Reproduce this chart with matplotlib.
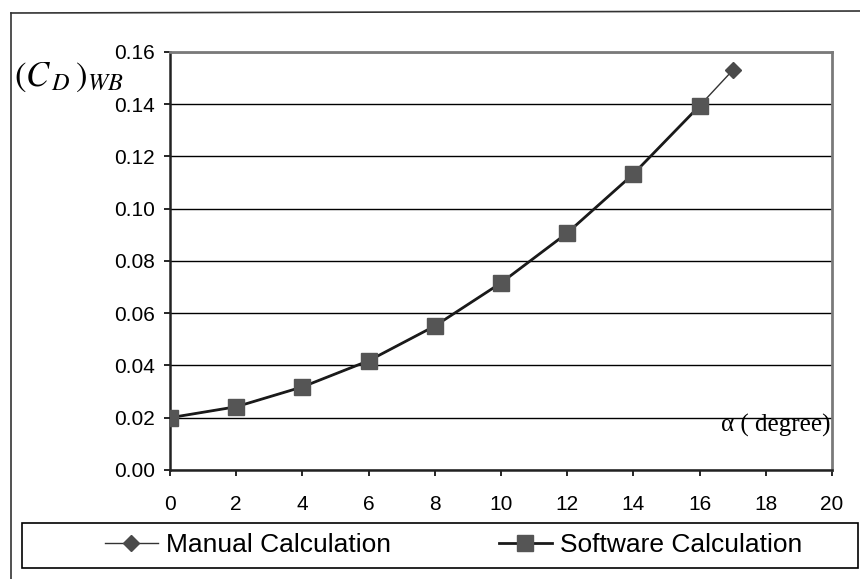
import matplotlib
matplotlib.use("Agg")
import matplotlib.pyplot as plt
from matplotlib.patches import Rectangle
from matplotlib.lines import Line2D

plt.rcParams['font.family'] = ['Liberation Sans', 'DejaVu Sans']
plt.rcParams['mathtext.fontset'] = 'stix'

# angle of attack (deg) and drag coefficient values
alpha_manual = [0, 2, 4, 6, 8, 10, 12, 14, 16, 17]
cd_manual = [0.0200, 0.0242, 0.0318, 0.0418, 0.0551, 0.0716, 0.0907, 0.1133, 0.1394, 0.1530]

alpha_software = [0, 2, 4, 6, 8, 10, 12, 14, 16]
cd_software = [0.0200, 0.0242, 0.0318, 0.0418, 0.0551, 0.0716, 0.0907, 0.1133, 0.1394]

x_ticks = [0, 2, 4, 6, 8, 10, 12, 14, 16, 18, 20]
y_ticks = [0.00, 0.02, 0.04, 0.06, 0.08, 0.10, 0.12, 0.14, 0.16]

fig = plt.figure(figsize=(8.6, 5.79), dpi=100)
ax = fig.add_axes([0.1977, 0.1883, 0.9674 - 0.1977, 0.9102 - 0.1883])

ax.plot(alpha_manual, cd_manual, color='#333333', lw=1.0, marker='D',
        markersize=8, markerfacecolor='#4a4a4a', markeredgecolor='#4a4a4a',
        zorder=3)
ax.plot(alpha_software, cd_software, color='#1a1a1a', lw=2.0, marker='s',
        markersize=11.5, markerfacecolor='#555555', markeredgecolor='#555555',
        zorder=4)

ax.set_xlim(0, 20)
ax.set_ylim(0, 0.16)
ax.set_xticks(x_ticks)
ax.set_yticks(y_ticks)
ax.set_yticklabels([f"{v:.2f}" for v in y_ticks])
ax.tick_params(axis='both', direction='out', length=4, width=1.2,
               labelsize=15, color='black')
ax.tick_params(axis='y', pad=7)
ax.tick_params(axis='x', pad=14)

ax.yaxis.grid(True, color='black', lw=1.0)
ax.set_axisbelow(True)

for s in ['left', 'bottom']:
    ax.spines[s].set_color('#222222')
    ax.spines[s].set_linewidth(1.8)
for s in ['top', 'right']:
    ax.spines[s].set_color('#7a7a7a')
    ax.spines[s].set_linewidth(2.0)

ax.text(19.95, 0.0172, 'α ( degree)', family='Liberation Serif',
        fontsize=18, ha='right', va='center')

fig.text(0.016, 0.866, r'$\left(C_{\,D}\,\right)_{WB}$', fontsize=25,
         ha='left', va='center')

# outer chart border (only top and left edges are inside the picture)
fig.add_artist(Line2D([11 / 860, 11 / 860], [0, (579 - 13) / 579],
                      transform=fig.transFigure, color='#333333', lw=1.2))
fig.add_artist(Line2D([11 / 860, 1], [(579 - 13) / 579, (579 - 11) / 579],
                      transform=fig.transFigure, color='#333333', lw=1.2))
# legend box
fig.patches.append(Rectangle((22 / 860, 11 / 579), (858 - 22) / 860, 45 / 579,
                             transform=fig.transFigure, fill=False,
                             edgecolor='black', lw=1.2))

handles = [
    Line2D([], [], color='#333333', lw=1.0, marker='D', markersize=8,
           markerfacecolor='#4a4a4a', markeredgecolor='#4a4a4a'),
    Line2D([], [], color='#1a1a1a', lw=2.0, marker='s', markersize=11.5,
           markerfacecolor='#555555', markeredgecolor='#555555'),
]
fig.legend(handles, ['Manual Calculation', 'Software Calculation'],
           loc='center left', bbox_to_anchor=(105 / 860, 33.5 / 579),
           ncol=2, frameon=False, fontsize=19, borderpad=0, borderaxespad=0,
           handlelength=2.0, handletextpad=0.3, columnspacing=4.1)

fig.savefig('out.png', dpi=100)
